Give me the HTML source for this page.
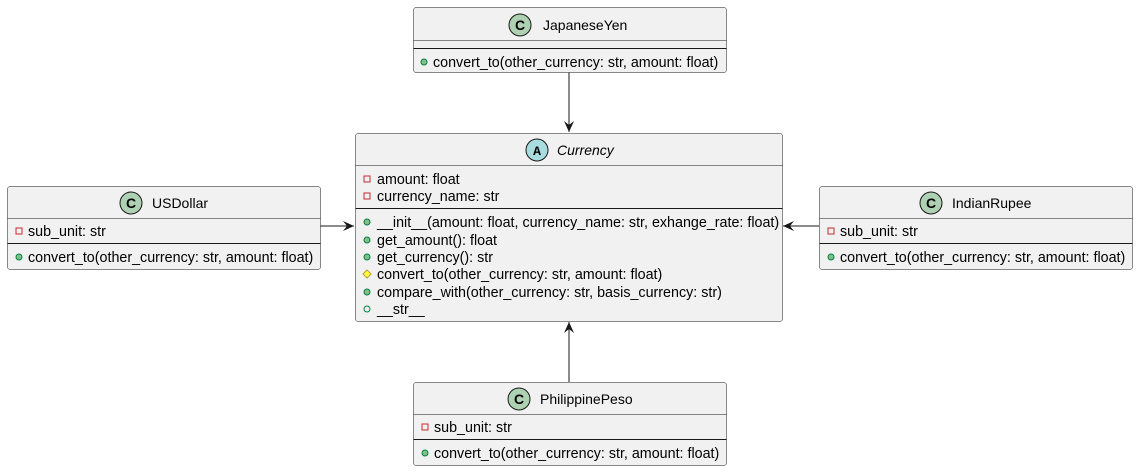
<!DOCTYPE html>
<html><head><style>
html,body{margin:0;padding:0;background:#fff;}
svg text{font-family:"Liberation Sans",sans-serif;font-size:14.3px;fill:#000;}
svg text.t{font-size:14px;}
</style></head><body>
<svg width="1138" height="471" viewBox="0 0 1138 471" xmlns="http://www.w3.org/2000/svg">
<defs>
<marker id="ar" markerWidth="12" markerHeight="10" refX="11" refY="5" orient="auto" markerUnits="userSpaceOnUse">
<path d="M0,0 L11,5 L0,10 L4,5 Z" fill="#181818"/>
</marker>
</defs>
<g stroke="#181818" stroke-width="1">
<line x1="569" y1="72" x2="569" y2="132" marker-end="url(#ar)"/>
<line x1="320" y1="226" x2="354" y2="226" marker-end="url(#ar)"/>
<line x1="819" y1="226" x2="783" y2="226" marker-end="url(#ar)"/>
<line x1="569" y1="382" x2="569" y2="322" marker-end="url(#ar)"/>
</g>

<!-- JapaneseYen -->
<rect x="413.5" y="7.5" width="313" height="65" rx="2.5" fill="#F1F1F1" stroke="#181818" stroke-width="0.5"/>
<line x1="413.5" y1="40.5" x2="726.5" y2="40.5" stroke="#181818" stroke-width="0.5"/>
<line x1="413.5" y1="48.5" x2="726.5" y2="48.5" stroke="#181818" stroke-width="1"/>
<circle cx="520" cy="25" r="11" fill="#ADD1B2" stroke="#181818" stroke-width="1"/>
<text x="520" y="30" text-anchor="middle" style="font-weight:bold;font-size:14px">C</text>
<text class="t" x="543" y="30">JapaneseYen</text>
<circle cx="424" cy="62" r="3" fill="#84BE84" stroke="#038048" stroke-width="1"/>
<text x="433" y="67">convert_to(other_currency: str, amount: float)</text>

<!-- Currency -->
<rect x="355.5" y="133.5" width="427" height="188" rx="2.5" fill="#F1F1F1" stroke="#181818" stroke-width="0.5"/>
<line x1="355.5" y1="165.5" x2="782.5" y2="165.5" stroke="#181818" stroke-width="0.5"/>
<line x1="355.5" y1="208.5" x2="782.5" y2="208.5" stroke="#181818" stroke-width="1"/>
<circle cx="537" cy="150" r="11" fill="#A9DCDF" stroke="#181818" stroke-width="1"/>
<text x="537" y="155" text-anchor="middle" style="font-weight:bold;font-size:13px;font-family:'Liberation Mono',monospace">A</text>
<text class="t" x="557" y="155" style="font-style:italic">Currency</text>
<rect x="364" y="176" width="6" height="6" fill="none" stroke="#C82930" stroke-width="1"/>
<text x="377" y="184">amount: float</text>
<rect x="364" y="193" width="6" height="6" fill="none" stroke="#C82930" stroke-width="1"/>
<text x="377" y="201">currency_name: str</text>
<g fill="#84BE84" stroke="#038048" stroke-width="1">
<circle cx="367" cy="222" r="3"/><circle cx="367" cy="240" r="3"/><circle cx="367" cy="257" r="3"/><circle cx="367" cy="292" r="3"/>
</g>
<path d="M367,270 L371,274 L367,278 L363,274 Z" fill="#FFFF44" stroke="#B8A11E" stroke-width="1"/>
<circle cx="367" cy="309" r="3" fill="none" stroke="#038048" stroke-width="1"/>
<text x="377" y="227">__init__(amount: float, currency_name: str, exhange_rate: float)</text>
<text x="377" y="245">get_amount(): float</text>
<text x="377" y="262">get_currency(): str</text>
<text x="377" y="279">convert_to(other_currency: str, amount: float)</text>
<text x="377" y="297">compare_with(other_currency: str, basis_currency: str)</text>
<text x="377" y="314">__str__</text>

<!-- USDollar -->
<rect x="7.5" y="186.5" width="313" height="83" rx="2.5" fill="#F1F1F1" stroke="#181818" stroke-width="0.5"/>
<line x1="7.5" y1="218.5" x2="320.5" y2="218.5" stroke="#181818" stroke-width="0.5"/>
<line x1="7.5" y1="243.5" x2="320.5" y2="243.5" stroke="#181818" stroke-width="1"/>
<circle cx="131" cy="203" r="11" fill="#ADD1B2" stroke="#181818" stroke-width="1"/>
<text x="131" y="208" text-anchor="middle" style="font-weight:bold;font-size:14px">C</text>
<text class="t" x="152" y="208">USDollar</text>
<rect x="16" y="228" width="6" height="6" fill="none" stroke="#C82930" stroke-width="1"/>
<text x="28" y="236">sub_unit: str</text>
<circle cx="19" cy="257" r="3" fill="#84BE84" stroke="#038048" stroke-width="1"/>
<text x="28" y="262">convert_to(other_currency: str, amount: float)</text>

<!-- IndianRupee -->
<rect x="819.5" y="186.5" width="313" height="83" rx="2.5" fill="#F1F1F1" stroke="#181818" stroke-width="0.5"/>
<line x1="819.5" y1="218.5" x2="1132.5" y2="218.5" stroke="#181818" stroke-width="0.5"/>
<line x1="819.5" y1="243.5" x2="1132.5" y2="243.5" stroke="#181818" stroke-width="1"/>
<circle cx="931" cy="203" r="11" fill="#ADD1B2" stroke="#181818" stroke-width="1"/>
<text x="931" y="208" text-anchor="middle" style="font-weight:bold;font-size:14px">C</text>
<text class="t" x="952" y="208">IndianRupee</text>
<rect x="828" y="228" width="6" height="6" fill="none" stroke="#C82930" stroke-width="1"/>
<text x="840" y="236">sub_unit: str</text>
<circle cx="831" cy="257" r="3" fill="#84BE84" stroke="#038048" stroke-width="1"/>
<text x="840" y="262">convert_to(other_currency: str, amount: float)</text>

<!-- PhilippinePeso -->
<rect x="413.5" y="382.5" width="313" height="83" rx="2.5" fill="#F1F1F1" stroke="#181818" stroke-width="0.5"/>
<line x1="413.5" y1="414.5" x2="726.5" y2="414.5" stroke="#181818" stroke-width="0.5"/>
<line x1="413.5" y1="439.5" x2="726.5" y2="439.5" stroke="#181818" stroke-width="1"/>
<circle cx="519" cy="399" r="11" fill="#ADD1B2" stroke="#181818" stroke-width="1"/>
<text x="519" y="404" text-anchor="middle" style="font-weight:bold;font-size:14px">C</text>
<text class="t" x="540" y="404">PhilippinePeso</text>
<rect x="422" y="424" width="6" height="6" fill="none" stroke="#C82930" stroke-width="1"/>
<text x="434" y="432">sub_unit: str</text>
<circle cx="425" cy="453" r="3" fill="#84BE84" stroke="#038048" stroke-width="1"/>
<text x="434" y="458">convert_to(other_currency: str, amount: float)</text>
</svg>
</body></html>
